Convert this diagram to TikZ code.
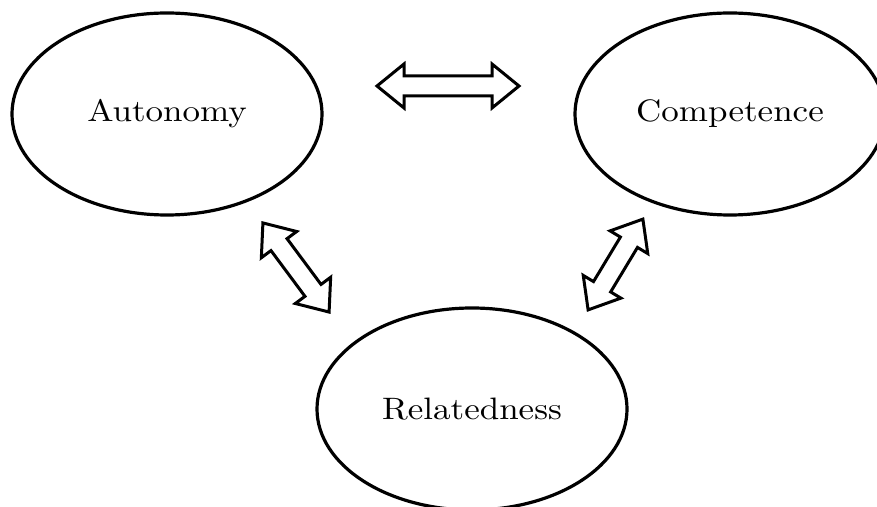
\documentclass[tikz,border=0pt]{standalone}
\usepackage{tikz}
\usepackage{graphicx}
\usetikzlibrary{shapes.geometric}

\newcommand{\wideword}[1]{\scalebox{1.75}[1.55]{#1}}
% hollow two-headed block arrow: centre, angle, half length
\newcommand{\twoway}[3]{%
  \draw[link, shift={#1}, rotate=#2]
    (-#3,0) -- (-#3+27,22) -- (-#3+27,10) -- (#3-27,10) -- (#3-27,22)
    -- (#3,0) -- (#3-27,-22) -- (#3-27,-10) -- (-#3+27,-10)
    -- (-#3+27,-22) -- cycle;}

\begin{document}
\begin{tikzpicture}[x=0.5pt,y=-0.5pt,
    need/.style={draw, ellipse, line width=1.6pt, minimum width=155pt,
      minimum height=101pt, inner sep=0pt},
    link/.style={line width=1.5pt}]

  \useasboundingbox (0,0) rectangle (877,507);
  \clip (0,0) rectangle (877,507);

  % the three needs
  \node[need] (auto) at (167,114) {\wideword{Autonomy}};
  \node[need] (comp) at (730,114) {\wideword{Competence}};
  \node[need] (rel) at (472,409) {\wideword{Relatedness}};

  % block arrows between them
  \coordinate (autocomp) at (448,86);
  \coordinate (autorel) at (296,267.5);
  \coordinate (comprel) at (615.5,264.5);
  \twoway{(autocomp)}{0}{71}
  \twoway{(autorel)}{-53.4}{55.5}
  \twoway{(comprel)}{58.9}{53}

\end{tikzpicture}
\end{document}
